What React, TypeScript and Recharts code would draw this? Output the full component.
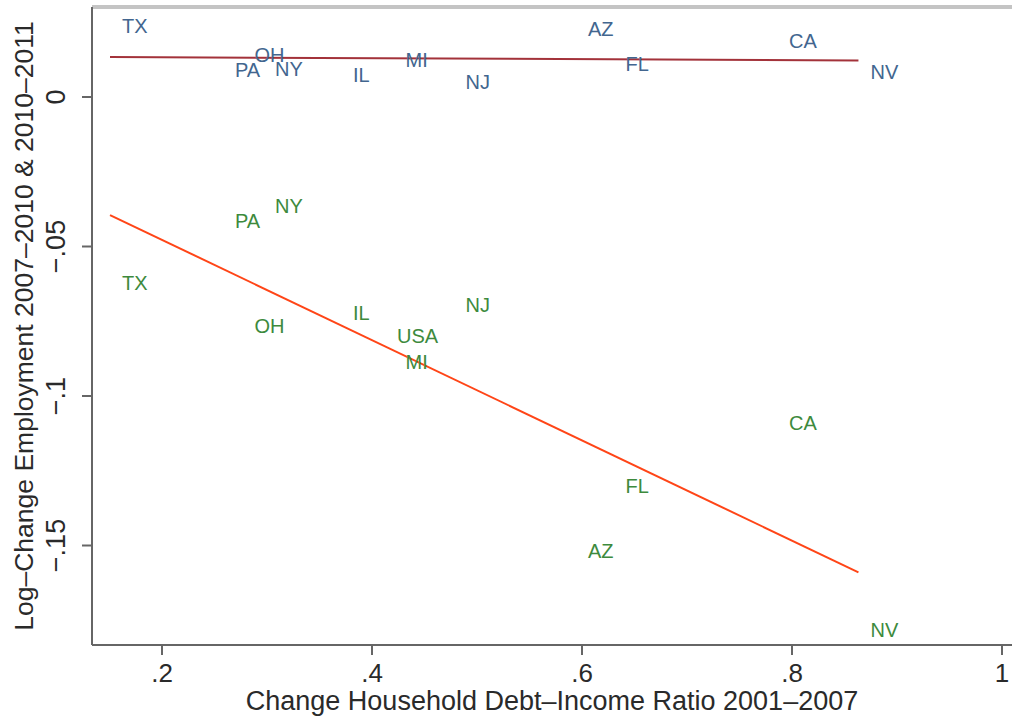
import React from 'react';
import { ScatterChart, Scatter, XAxis, YAxis, ReferenceLine } from 'recharts';

const states = ['TX', 'PA', 'NY', 'OH', 'IL', 'MI', 'NJ', 'AZ', 'FL', 'CA', 'NV'];
const debtChange = [0.1505, 0.2581, 0.2962, 0.2767, 0.3705, 0.4205, 0.4776, 0.5943, 0.63, 0.7857, 0.8633];
const emp0710 = [-0.0622, -0.0415, -0.0365, -0.0766, -0.0721, -0.0885, -0.0696, -0.1517, -0.13, -0.1089, -0.1781];
const emp1011 = [0.0239, 0.0089, 0.0092, 0.0139, 0.0075, 0.0125, 0.005, 0.0226, 0.0112, 0.0186, 0.0082];
const usaPoint = { name: 'USA', x: 0.4124, y: -0.0801 };

const xTicks = [0.2, 0.4, 0.6, 0.8, 1];
const yTicks = [-0.15, -0.1, -0.05, 0];

const X_MIN = 0.2 - 70 / 1050;
const X_MAX = 1 + 10 / 1050;
const Y_MIN = -548 / 2990;
const Y_MAX = 90 / 2990;

const BLUE = '#42668f';
const GREEN = '#3d8a3d';
const TEXT = '#2a2a2a';
const FONT = '"Liberation Sans", Arial, Helvetica, sans-serif';

const green = states.map((s, i) => ({ name: s, x: debtChange[i], y: emp0710[i] })).concat([usaPoint]);
const blue = states.map((s, i) => ({ name: s, x: debtChange[i], y: emp1011[i] }));

// simple OLS fit over the state points, spanning the x range
function fit(ys: number[]) {
  const n = ys.length;
  const mx = debtChange.reduce((a, b) => a + b, 0) / n;
  const my = ys.reduce((a, b) => a + b, 0) / n;
  let sxy = 0;
  let sxx = 0;
  debtChange.forEach((x, i) => {
    sxy += (x - mx) * (ys[i] - my);
    sxx += (x - mx) * (x - mx);
  });
  const b = sxy / sxx;
  const x0 = Math.min(...debtChange);
  const x1 = Math.max(...debtChange);
  return [
    { x: x0, y: my + b * (x0 - mx) },
    { x: x1, y: my + b * (x1 - mx) },
  ];
}

const fmt = (v: number) => {
  if (v === 0) return '0';
  const s = String(Math.abs(v)).replace(/^0/, '');
  return (v < 0 ? '\u2212' : '') + s;
};

const makeLabel = (color: string) => (props: any) => {
  const { cx, cy, payload } = props;
  return (
    <text x={cx + 12} y={cy} dominantBaseline="central" fill={color} fontSize={20} fontFamily={FONT}>
      {payload.name}
    </text>
  );
};

const XTick = (props: any) => {
  const { x, y, payload } = props;
  return (
    <text x={x} y={y + 25} textAnchor="middle" fill={TEXT} fontSize={26} fontFamily={FONT}>
      {fmt(payload.value)}
    </text>
  );
};

const YTick = (props: any) => {
  const { y, payload } = props;
  return (
    <text x={65} y={y} textAnchor="middle" transform={`rotate(-90, 65, ${y})`} fill={TEXT} fontSize={27} fontFamily={FONT}>
      {fmt(payload.value)}
    </text>
  );
};

const App: React.FC = () => {
  const fitGreen = fit(emp0710);
  const fitBlue = fit(emp1011);
  return (
    <div style={{ position: 'absolute', left: 0, top: 0, width: 1012, height: 719, background: '#fff' }}>
      <ScatterChart width={1012} height={719} margin={{ top: 7, right: 0, bottom: 0, left: 0 }}>
        <XAxis
          type="number"
          dataKey="x"
          domain={[X_MIN, X_MAX]}
          ticks={xTicks}
          allowDataOverflow
          height={74}
          stroke="#666"
          strokeWidth={2}
          tickSize={10}
          tick={<XTick />}
          label={{
            value: 'Change Household Debt\u2013Income Ratio 2001\u20132007',
            position: 'insideBottom',
            offset: 9,
            fill: TEXT,
            fontSize: 27,
            fontFamily: FONT,
          }}
        />
        <YAxis
          type="number"
          dataKey="y"
          domain={[Y_MIN, Y_MAX]}
          ticks={yTicks}
          allowDataOverflow
          width={92}
          stroke="#666"
          strokeWidth={2}
          tickSize={10}
          tick={<YTick />}
          label={{
            value: 'Log\u2013Change Employment 2007\u20132010 & 2010\u20132011',
            angle: -90,
            position: 'insideLeft',
            offset: 24,
            fill: TEXT,
            fontSize: 26.5,
            fontFamily: FONT,
            style: { textAnchor: 'middle' },
          }}
        />
        <ReferenceLine y={Y_MAX} stroke="#c4c4c4" strokeWidth={4} ifOverflow="extendDomain" />
        <ReferenceLine segment={fitBlue} stroke="#a3323a" strokeWidth={2} ifOverflow="visible" />
        <ReferenceLine segment={fitGreen} stroke="#ff4517" strokeWidth={2} ifOverflow="visible" />
        <Scatter data={blue} shape={makeLabel(BLUE)} isAnimationActive={false} />
        <Scatter data={green} shape={makeLabel(GREEN)} isAnimationActive={false} />
      </ScatterChart>
    </div>
  );
};

export default App;
